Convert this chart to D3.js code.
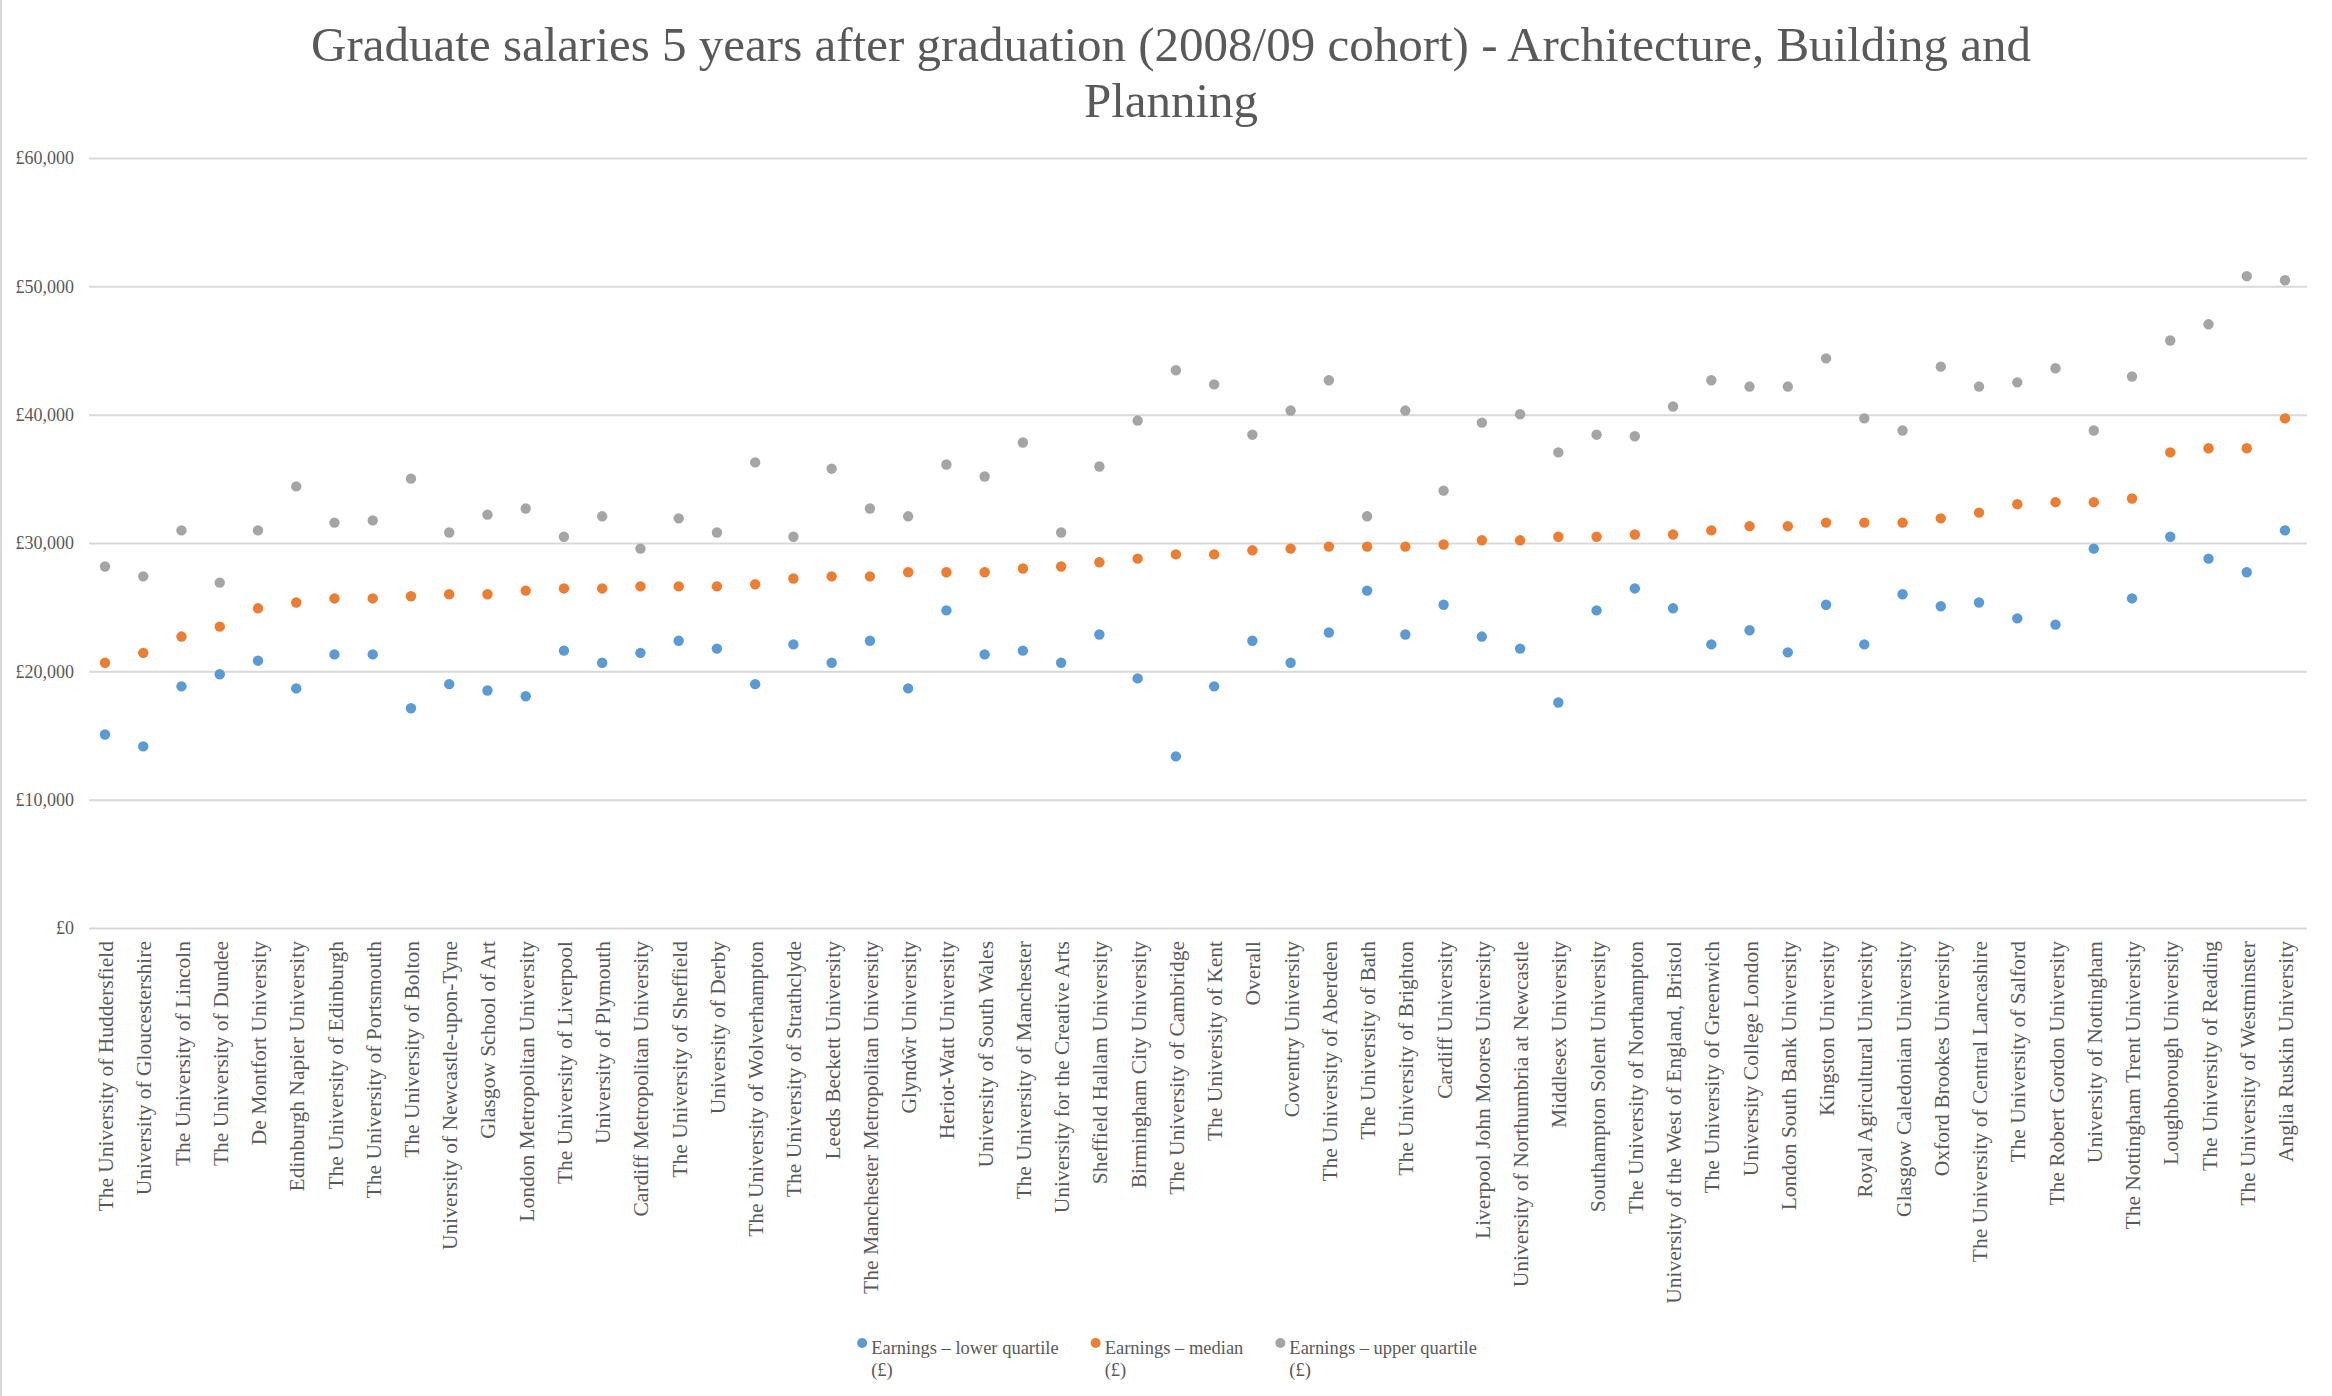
<!DOCTYPE html>
<html><head><meta charset="utf-8">
<script src="https://cdn.jsdelivr.net/npm/d3@7"></script>
<style>html,body{margin:0;padding:0;background:#fff;} svg{display:block;}</style>
</head><body><svg id="c" width="2332" height="1396"></svg>
<script>
const universities = ["The University of Huddersfield","University of Gloucestershire","The University of Lincoln","The University of Dundee","De Montfort University","Edinburgh Napier University","The University of Edinburgh","The University of Portsmouth","The University of Bolton","University of Newcastle-upon-Tyne","Glasgow School of Art","London Metropolitan University","The University of Liverpool","University of Plymouth","Cardiff Metropolitan University","The University of Sheffield","University of Derby","The University of Wolverhampton","The University of Strathclyde","Leeds Beckett University","The Manchester Metropolitan University","Glyndŵr University","Heriot-Watt University","University of South Wales","The University of Manchester","University for the Creative Arts","Sheffield Hallam University","Birmingham City University","The University of Cambridge","The University of Kent","Overall","Coventry University","The University of Aberdeen","The University of Bath","The University of Brighton","Cardiff University","Liverpool John Moores University","University of Northumbria at Newcastle","Middlesex University","Southampton Solent University","The University of Northampton","University of the West of England, Bristol","The University of Greenwich","University College London","London South Bank University","Kingston University","Royal Agricultural University","Glasgow Caledonian University","Oxford Brookes University","The University of Central Lancashire","The University of Salford","The Robert Gordon University","University of Nottingham","The Nottingham Trent University","Loughborough University","The University of Reading","The University of Westminster","Anglia Ruskin University"];

const lowerQuartile = [15080,14150,18830,19770,20830,18670,21320,21320,17120,19000,18510,18060,21610,20670,21440,22380,21770,19000,22100,20670,22380,18670,24750,21320,21610,20670,22870,19450,13370,18830,22380,20670,23030,26290,22870,25190,22710,21770,17570,24750,26460,24910,22100,23200,21480,25190,22100,26010,25070,25360,24130,23640,29560,25680,30490,28780,27720,30980];

const median = [20670,21440,22710,23480,24910,25360,25680,25680,25850,26010,26010,26290,26460,26460,26620,26620,26620,26780,27230,27400,27400,27720,27720,27720,28010,28170,28500,28780,29110,29110,29430,29560,29720,29720,29720,29880,30210,30210,30490,30490,30660,30660,30980,31310,31310,31590,31590,31590,31920,32370,33020,33180,33180,33470,37060,37380,37380,39710];

const upperQuartile = [28170,27400,30980,26910,30980,34410,31590,31760,35020,30820,32210,32690,30490,32080,29560,31920,30820,36280,30490,35790,32690,32080,36120,35180,37830,30820,35960,39540,43460,42360,38440,40320,42680,32080,40320,34080,39380,40030,37060,38440,38320,40640,42680,42190,42190,44390,39710,38770,43740,42190,42520,43620,38770,42970,45780,47040,50790,50470];

const yTicks = [0,10000,20000,30000,40000,50000,60000];
const seriesNames = ["Earnings – lower quartile", "Earnings – median", "Earnings – upper quartile"];
const seriesColors = ["#5B9BD5", "#ED7D31", "#A5A5A5"];
const titleLines = ["Graduate salaries 5 years after graduation (2008/09 cohort) - Architecture, Building and", "Planning"];

const W = 2332, H = 1396;
const font = "'Liberation Serif', 'Times New Roman', serif";
const textColor = "#595959";
const svg = d3.select('#c');

svg.append('rect').attr('width', W).attr('height', H).attr('fill', '#fff');
svg.append('line').attr('x1', 1).attr('x2', 1).attr('y1', 0).attr('y2', H)
  .attr('stroke', '#d9d9d9').attr('stroke-width', 2);

const plotL = 89, plotR = 2307, plotT = 158, plotB = 928;
const x = d3.scalePoint().domain(universities).range([105, 2285]);
const y = d3.scaleLinear().domain([0, 60000]).range([plotB, plotT]);

// Title
svg.append('g').selectAll('text').data(titleLines).join('text')
  .attr('x', 1171).attr('y', (d, i) => 61 + i * 56)
  .attr('text-anchor', 'middle')
  .attr('font-family', font).attr('font-size', 49).attr('fill', textColor)
  .text(d => d);

// Y axis with gridlines
const yAxis = d3.axisLeft(y).tickValues(yTicks)
  .tickSize(-(plotR - plotL)).tickPadding(15)
  .tickFormat(d => '£' + d3.format(',')(d));
const gy = svg.append('g').attr('transform', `translate(${plotL},0)`).call(yAxis);
gy.select('.domain').remove();
gy.selectAll('.tick line').attr('stroke', '#d9d9d9').attr('stroke-width', 2);
gy.selectAll('.tick text').attr('font-family', font).attr('font-size', 18).attr('fill', textColor);

// X axis labels
const xAxis = d3.axisBottom(x).tickSize(0).tickPadding(0);
const gx = svg.append('g').attr('transform', `translate(0,${plotB})`).call(xAxis);
gx.select('.domain').remove();
gx.selectAll('.tick text')
  .attr('transform', 'rotate(-90)')
  .attr('text-anchor', 'end')
  .attr('x', -13).attr('y', 0).attr('dy', '0.35em')
  .attr('font-family', font).attr('font-size', 21.5).attr('fill', textColor);

// Points
const series = [lowerQuartile, median, upperQuartile];
series.forEach((vals, si) => {
  svg.append('g').selectAll('circle').data(vals).join('circle')
    .attr('cx', (d, i) => x(universities[i]))
    .attr('cy', d => y(d))
    .attr('r', 5.2)
    .attr('fill', seriesColors[si]);
});

// Legend
const lg = svg.append('g');
const items = lg.selectAll('g').data(seriesNames).join('g');
items.append('circle').attr('r', 5).attr('cx', 0).attr('cy', 1343)
  .attr('fill', (d, i) => seriesColors[i]);
items.append('text').attr('x', 9).attr('y', 1354)
  .attr('font-family', font).attr('font-size', 18.5).attr('fill', textColor)
  .text(d => d);
items.append('text').attr('x', 9).attr('y', 1376)
  .attr('font-family', font).attr('font-size', 18.5).attr('fill', textColor)
  .text('(£)');
let cx = 0;
const offsets = [];
items.each(function (d, i) {
  offsets.push(cx);
  const w = d3.select(this).select('text').node().getComputedTextLength();
  cx += 9 + w + 37;
});
const total = cx - 37 + 5;
const start = 1167 - total / 2 + 5;
items.attr('transform', (d, i) => `translate(${start + offsets[i]},0)`);
</script>
</body></html>
